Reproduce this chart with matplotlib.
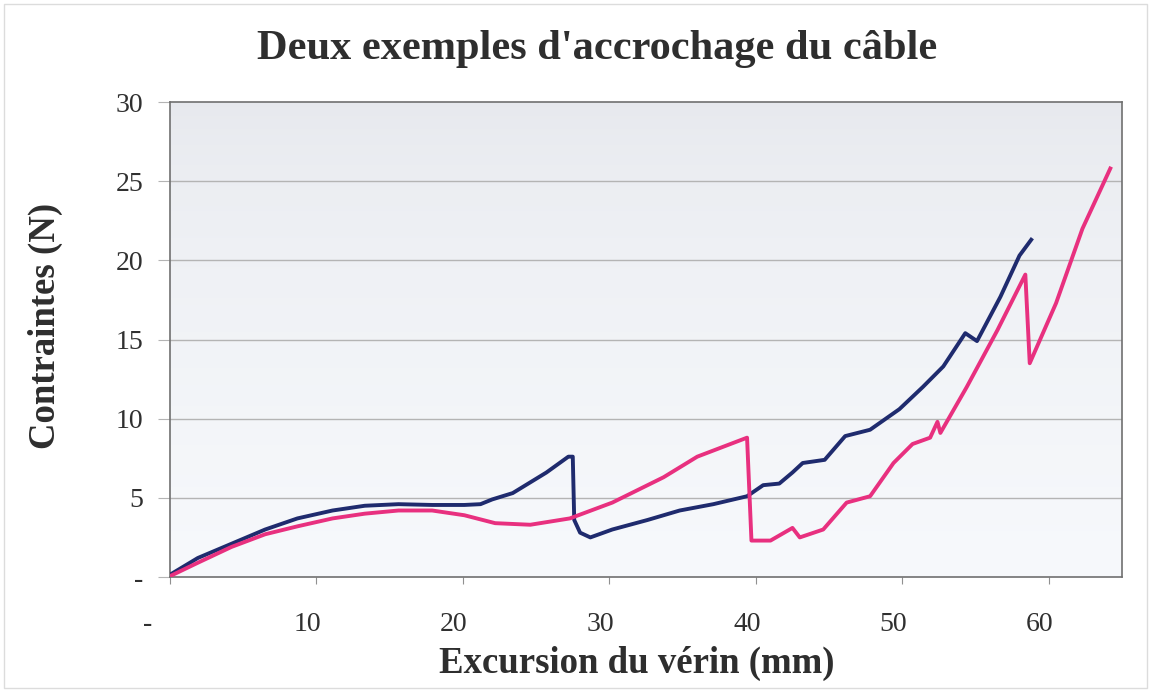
import matplotlib.pyplot as plt
import matplotlib.transforms as mtransforms
import numpy as np

# essai 1 (bleu)
x_essai1 = [0.1, 1.9, 4.2, 6.5, 8.7, 11.1, 13.3, 15.6, 17.9, 20.1, 21.2, 22.0,
            23.4, 25.7, 27.2, 27.5, 27.6, 28.0, 28.7, 30.2, 32.6, 34.8, 37.1,
            39.4, 40.5, 41.6, 42.5, 43.2, 44.7, 46.1, 47.8, 49.8, 51.4, 52.8,
            54.3, 55.1, 56.7, 58.0, 58.8]
y_essai1 = [0.2, 1.2, 2.1, 3.0, 3.7, 4.2, 4.5, 4.6, 4.55, 4.55, 4.6, 4.9,
            5.3, 6.6, 7.6, 7.6, 3.6, 2.8, 2.5, 3.0, 3.6, 4.2, 4.6,
            5.1, 5.8, 5.9, 6.6, 7.2, 7.4, 8.9, 9.3, 10.6, 12.0, 13.3,
            15.4, 14.9, 17.7, 20.3, 21.3]

# essai 2 (rose)
x_essai2 = [0.1, 1.9, 4.2, 6.5, 8.7, 11.1, 13.3, 15.6, 17.9, 20.1, 22.2, 24.6,
            27.3, 30.2, 33.7, 36.0, 39.4, 39.7, 41.0, 42.5, 43.0, 44.6, 46.2,
            47.8, 49.4, 50.7, 51.9, 52.4, 52.6, 54.4, 56.5, 58.4, 58.7, 60.5,
            62.3, 64.2]
y_essai2 = [0.1, 0.9, 1.9, 2.7, 3.2, 3.7, 4.0, 4.2, 4.2, 3.9, 3.4, 3.3,
            3.7, 4.7, 6.3, 7.6, 8.8, 2.3, 2.3, 3.1, 2.5, 3.0, 4.7,
            5.1, 7.2, 8.4, 8.8, 9.8, 9.1, 12.0, 15.6, 19.1, 13.5, 17.3,
            22.0, 25.8]

x_ticks = [0, 10, 20, 30, 40, 50, 60]
x_labels = ["-", "10", "20", "30", "40", "50", "60"]
y_ticks = [0, 5, 10, 15, 20, 25, 30]
y_labels = ["-", "5", "10", "15", "20", "25", "30"]

plt.rcParams['font.family'] = 'Liberation Serif'

fig = plt.figure(figsize=(11.51, 6.9), dpi=100)
ax = fig.add_axes([170 / 1151, 1 - 577 / 690, (1122 - 170) / 1151, (577 - 102) / 690])

# fond en degrade : gris en haut, presque blanc en bas
grad = np.linspace(0, 1, 256).reshape(-1, 1) ** 0.6
haut = np.array([230, 232, 237]) / 255
bas = np.array([247, 249, 252]) / 255
img = haut + (bas - haut) * grad[..., None]
ax.imshow(img, extent=[0, 65, 0, 30], origin='upper', aspect='auto', zorder=0)

for v in y_ticks[1:-1]:
    ax.axhline(v, color='#b4b4b4', lw=1.0, zorder=1)

ax.plot(x_essai1, y_essai1, color='#1f2b6e', lw=2.8, zorder=3)
ax.plot(x_essai2, y_essai2, color='#e8307f', lw=2.8, zorder=3)

ax.set_xlim(0, 65)
ax.set_ylim(0, 30)
ax.set_xticks(x_ticks)
ax.set_xticklabels(x_labels, fontsize=20, color='#303030')
ax.set_yticks(y_ticks)
ax.set_yticklabels(y_labels, fontsize=20, color='#303030')
ax.tick_params(axis='x', length=5, color='#909090', pad=20)
ax.tick_params(axis='y', length=9, color='#b4b4b4', pad=10)

for lab in ax.get_xticklabels():
    dx = -22 if lab.get_text() == "-" else -9
    lab.set_transform(lab.get_transform() + mtransforms.ScaledTranslation(dx / 100, 0, fig.dpi_scale_trans))

for s in ax.spines.values():
    s.set_color('#707070')
    s.set_linewidth(1.2)

fig.text(597 / 1151, 1 - 49 / 690, "Deux exemples d'accrochage du câble",
         ha='center', va='center', fontsize=30.5, fontweight='bold', color='#2e2e2e')
fig.text(45 / 1151, 1 - 326 / 690, "Contraintes (N)", rotation=90,
         ha='center', va='center', fontsize=26.5, fontweight='bold', color='#2e2e2e')
fig.text(637 / 1151, 1 - 663 / 690, "Excursion du vérin (mm)",
         ha='center', va='center', fontsize=26.5, fontweight='bold', color='#2e2e2e')

# cadre exterieur
fig.patches.append(plt.Rectangle((4 / 1151, 2 / 690), 1143 / 1151, 684 / 690,
                                 transform=fig.transFigure, fill=False,
                                 edgecolor='#dcdcdc', lw=1))

fig.savefig('out.png', dpi=100, facecolor='white')
